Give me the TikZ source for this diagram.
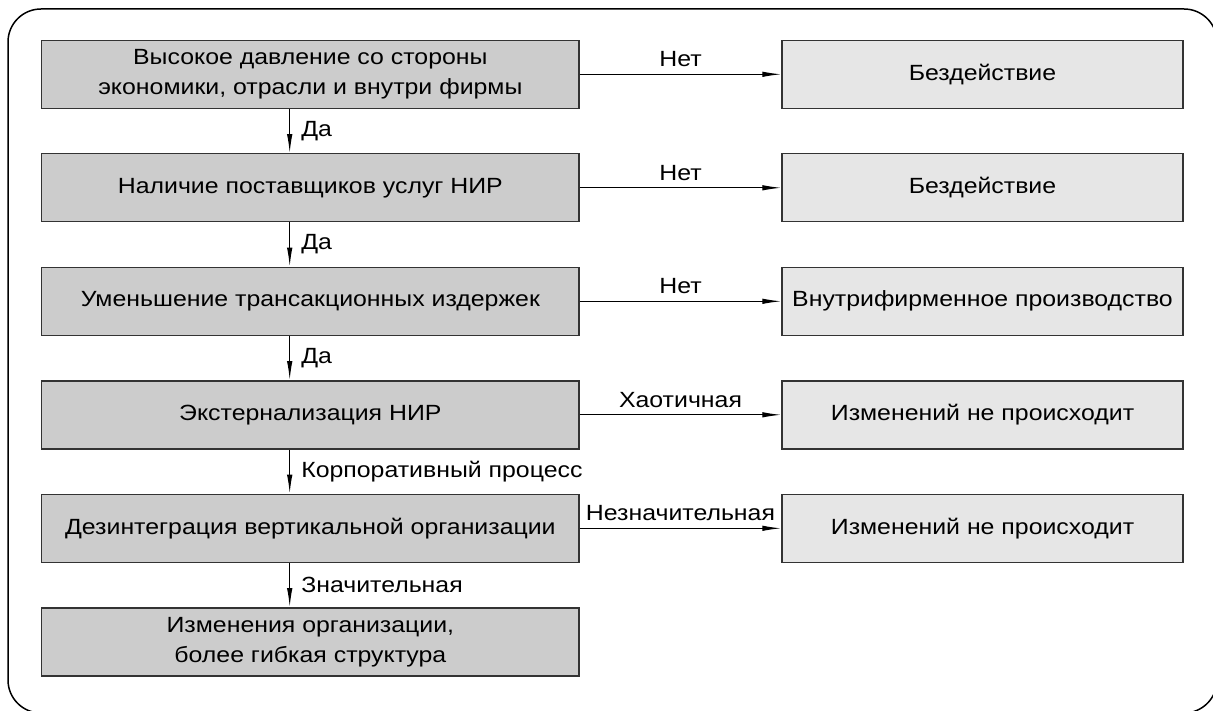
\documentclass[tikz,border=0pt]{standalone}
\usepackage{fontspec}
\setmainfont{Liberation Sans}[FakeStretch=1.13]
\usetikzlibrary{arrows.meta}
\definecolor{leftfill}{HTML}{CCCCCC}
\definecolor{rightfill}{HTML}{E6E6E6}
\definecolor{edge}{HTML}{333333}
\tikzset{
  txt/.style={font=\fontsize{22}{30}\selectfont},
  stepbox/.style={txt, draw=edge, line width=1.4pt, inner sep=0pt, align=center},
  leftbox/.style={stepbox, fill=leftfill, minimum width=537.3pt, minimum height=68pt},
  rightbox/.style={stepbox, fill=rightfill, minimum width=401pt, minimum height=68pt},
  arr/.style={line width=1.2pt, -{Latex[length=19pt,width=5.5pt]}},
  vlab/.style={txt, anchor=west, inner sep=0pt},
  hlab/.style={txt, anchor=base, inner sep=0pt},
}
\begin{document}
\begin{tikzpicture}[x=1pt,y=-1pt]
\useasboundingbox (0,0) rectangle (1213,711);
\begin{scope}
\clip (0,0) rectangle (1213,711);
\draw[line width=1.5pt, rounded corners=33pt] (8,9) rectangle (1217,713);
\end{scope}

\node[leftbox] (L1) at (310.35,74.3) {Высокое давление со стороны\\экономики, отрасли и внутри фирмы};
\node[leftbox] (L2) at (310.35,187.8) {Наличие поставщиков услуг НИР};
\node[leftbox] (L3) at (310.35,301.3) {Уменьшение трансакционных издержек};
\node[leftbox] (L4) at (310.35,414.8) {Экстернализация НИР};
\node[leftbox] (L5) at (310.35,528.3) {Дезинтеграция вертикальной организации};
\node[leftbox] (L6) at (310.35,641.8) {Изменения организации,\\более гибкая структура};

\node[rightbox] (R1) at (982.5,74.3) {Бездействие};
\node[rightbox] (R2) at (982.5,187.8) {Бездействие};
\node[rightbox] (R3) at (982.5,301.3) {Внутрифирменное производство};
\node[rightbox] (R4) at (982.5,414.8) {Изменений не происходит};
\node[rightbox] (R5) at (982.5,528.3) {Изменений не происходит};

\coordinate (ax) at (289.7,0);

\foreach \a/\b/\t in {L1/L2/Да, L2/L3/Да, L3/L4/Да, L4/L5/Корпоративный процесс, L5/L6/Значительная}{
  \draw[arr] (\a.south -| ax) -- (\b.north -| ax)
    node[midway, vlab, xshift=11pt] (lab\a) {\t};
}

\foreach \a/\b/\t in {L1/R1/Нет, L2/R2/Нет, L3/R3/Нет, L4/R4/Хаотичная, L5/R5/Незначительная}{
  \draw[arr] (\a.east) -- (\b.west)
    node[midway, hlab, yshift=7.6pt] (lab\b) {\t};
}
\end{tikzpicture}
\end{document}
